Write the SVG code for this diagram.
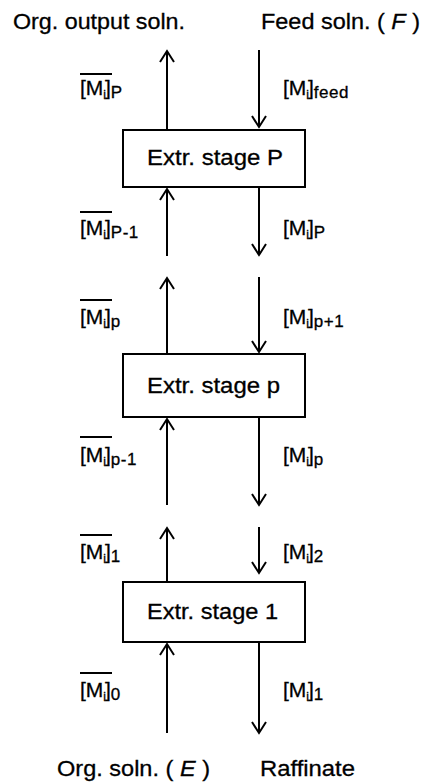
<svg xmlns="http://www.w3.org/2000/svg" width="421" height="784" viewBox="0 0 421 784">
<style>
text{font-family:"Liberation Sans",Arial,sans-serif;fill:#000;stroke:#000;stroke-width:0.3}
.t{font-size:22px}
.lb{font-size:21px}
.sb{font-size:17px;letter-spacing:0.5px}
.si{font-size:12px}
.box{fill:#fff;stroke:#000;stroke-width:2}
.ln{stroke:#000;stroke-width:2;fill:none}
.ov{stroke:#000;stroke-width:2}
</style>
<defs>
<marker id="ah" markerUnits="userSpaceOnUse" viewBox="-13 -9 15 18" refX="0" refY="0" markerWidth="15" markerHeight="18" orient="auto">
<path d="M-11,-7 L0,0 L-11,7" fill="none" stroke="#000" stroke-width="2"/>
</marker>
</defs>
<rect width="421" height="784" fill="#fff"/>
<g id="titles">
<text class="t" x="13" y="29" textLength="172" lengthAdjust="spacingAndGlyphs">Org. output soln.</text>
<text class="t" x="261" y="29" textLength="159" lengthAdjust="spacingAndGlyphs">Feed soln. ( <tspan font-style="italic">F</tspan> )</text>
<text class="t" x="57" y="776" textLength="153" lengthAdjust="spacingAndGlyphs">Org. soln. ( <tspan font-style="italic">E</tspan> )</text>
<text class="t" x="260" y="776" textLength="95" lengthAdjust="spacingAndGlyphs">Raffinate</text>
</g>
<g id="stageP">
<rect class="box" x="123" y="130" width="182" height="57"/>
<text class="t" x="147" y="165" textLength="136" lengthAdjust="spacingAndGlyphs">Extr. stage P</text>
</g>
<g id="stagep">
<rect class="box" x="123" y="354" width="182" height="63"/>
<text class="t" x="147" y="393" textLength="133" lengthAdjust="spacingAndGlyphs">Extr. stage p</text>
</g>
<g id="stage1">
<rect class="box" x="123" y="582" width="182" height="60"/>
<text class="t" x="147" y="619" textLength="131" lengthAdjust="spacingAndGlyphs">Extr. stage 1</text>
</g>
<g id="connectors">
<line class="ln" x1="167" y1="130" x2="167" y2="51" marker-end="url(#ah)"/>
<line class="ln" x1="259" y1="50" x2="259" y2="127" marker-end="url(#ah)"/>
<line class="ln" x1="167" y1="256" x2="167" y2="189" marker-end="url(#ah)"/>
<line class="ln" x1="259" y1="187" x2="259" y2="255" marker-end="url(#ah)"/>
<line class="ln" x1="167" y1="354" x2="167" y2="278" marker-end="url(#ah)"/>
<line class="ln" x1="259" y1="277" x2="259" y2="352" marker-end="url(#ah)"/>
<line class="ln" x1="167" y1="505" x2="167" y2="419" marker-end="url(#ah)"/>
<line class="ln" x1="259" y1="417" x2="259" y2="505" marker-end="url(#ah)"/>
<line class="ln" x1="167" y1="582" x2="167" y2="528" marker-end="url(#ah)"/>
<line class="ln" x1="259" y1="527" x2="259" y2="573" marker-end="url(#ah)"/>
<line class="ln" x1="167" y1="733" x2="167" y2="644" marker-end="url(#ah)"/>
<line class="ln" x1="259" y1="642" x2="259" y2="733" marker-end="url(#ah)"/>
</g>
<g id="labels">
<line class="ov" x1="80" y1="74" x2="112" y2="74"/>
<text class="lb" x="80" y="95">[M<tspan class="si" dy="4">i</tspan><tspan dy="-4" dx="-1">]</tspan><tspan class="sb" dy="3">P</tspan></text>
<text class="lb" x="283" y="95">[M<tspan class="si" dy="4">i</tspan><tspan dy="-4" dx="-1">]</tspan><tspan class="sb" dy="3" letter-spacing="2">feed</tspan></text>
<line class="ov" x1="80" y1="212" x2="112" y2="212"/>
<text class="lb" x="80" y="235">[M<tspan class="si" dy="4">i</tspan><tspan dy="-4" dx="-1">]</tspan><tspan class="sb" dy="3">P-1</tspan></text>
<text class="lb" x="283" y="235">[M<tspan class="si" dy="4">i</tspan><tspan dy="-4" dx="-1">]</tspan><tspan class="sb" dy="3">P</tspan></text>
<line class="ov" x1="80" y1="300" x2="112" y2="300"/>
<text class="lb" x="80" y="324">[M<tspan class="si" dy="4">i</tspan><tspan dy="-4" dx="-1">]</tspan><tspan class="sb" dy="3">p</tspan></text>
<text class="lb" x="283" y="324">[M<tspan class="si" dy="4">i</tspan><tspan dy="-4" dx="-1">]</tspan><tspan class="sb" dy="3">p+1</tspan></text>
<line class="ov" x1="80" y1="437" x2="112" y2="437"/>
<text class="lb" x="80" y="462">[M<tspan class="si" dy="4">i</tspan><tspan dy="-4" dx="-1">]</tspan><tspan class="sb" dy="3">p-1</tspan></text>
<text class="lb" x="283" y="462">[M<tspan class="si" dy="4">i</tspan><tspan dy="-4" dx="-1">]</tspan><tspan class="sb" dy="3">p</tspan></text>
<line class="ov" x1="80" y1="535" x2="112" y2="535"/>
<text class="lb" x="80" y="559">[M<tspan class="si" dy="4">i</tspan><tspan dy="-4" dx="-1">]</tspan><tspan class="sb" dy="3">1</tspan></text>
<text class="lb" x="283" y="559">[M<tspan class="si" dy="4">i</tspan><tspan dy="-4" dx="-1">]</tspan><tspan class="sb" dy="3">2</tspan></text>
<line class="ov" x1="80" y1="673" x2="112" y2="673"/>
<text class="lb" x="80" y="697">[M<tspan class="si" dy="4">i</tspan><tspan dy="-4" dx="-1">]</tspan><tspan class="sb" dy="3">0</tspan></text>
<text class="lb" x="283" y="697">[M<tspan class="si" dy="4">i</tspan><tspan dy="-4" dx="-1">]</tspan><tspan class="sb" dy="3">1</tspan></text>
</g>
</svg>
